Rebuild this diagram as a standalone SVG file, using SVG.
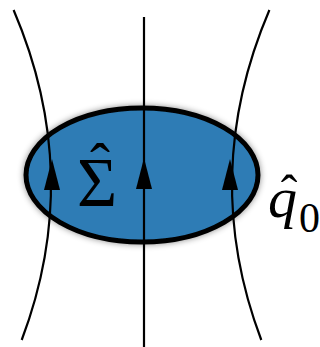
<svg xmlns="http://www.w3.org/2000/svg" width="320" height="347" viewBox="0 0 320 347">
<defs>
<style>
.ln{fill:none;stroke:#000;stroke-width:2.2}
.ar{fill:#000}
.tx{font-family:"Liberation Serif","DejaVu Serif",serif;fill:#000}
</style>
<filter id="sh" x="-20%" y="-20%" width="140%" height="140%">
<feDropShadow dx="0" dy="0" stdDeviation="3" flood-color="#000" flood-opacity="0.45"/>
</filter>
</defs>
<g id="blob">
<ellipse cx="142" cy="175" rx="116" ry="67" fill="#2e7cb5" stroke="#000" stroke-width="5" filter="url(#sh)"/>
</g>
<g id="connectors">
<path class="ln" d="M13.6,10 Q84.1,175 21.7,340"/>
<path class="ln" d="M144,17 L144,347"/>
<path class="ln" d="M269.4,10 Q198.9,175 261.3,340"/>
<polygon class="ar" points="52,159 44,190 60,190"/>
<polygon class="ar" points="144,158 136,189 152,189"/>
<polygon class="ar" points="230,159 222,190 238,190"/>
</g>
<g id="labels">
<text class="tx" x="77" y="206" font-size="69">Σ<tspan x="100" y="184" font-size="60" text-anchor="middle">ˆ</tspan></text>
<text class="tx" x="268" y="217" font-size="58"><tspan font-style="italic">q</tspan><tspan x="289" y="210" font-size="50" text-anchor="middle">ˆ</tspan><tspan x="299" y="232" font-size="42">0</tspan></text>
</g>
</svg>
